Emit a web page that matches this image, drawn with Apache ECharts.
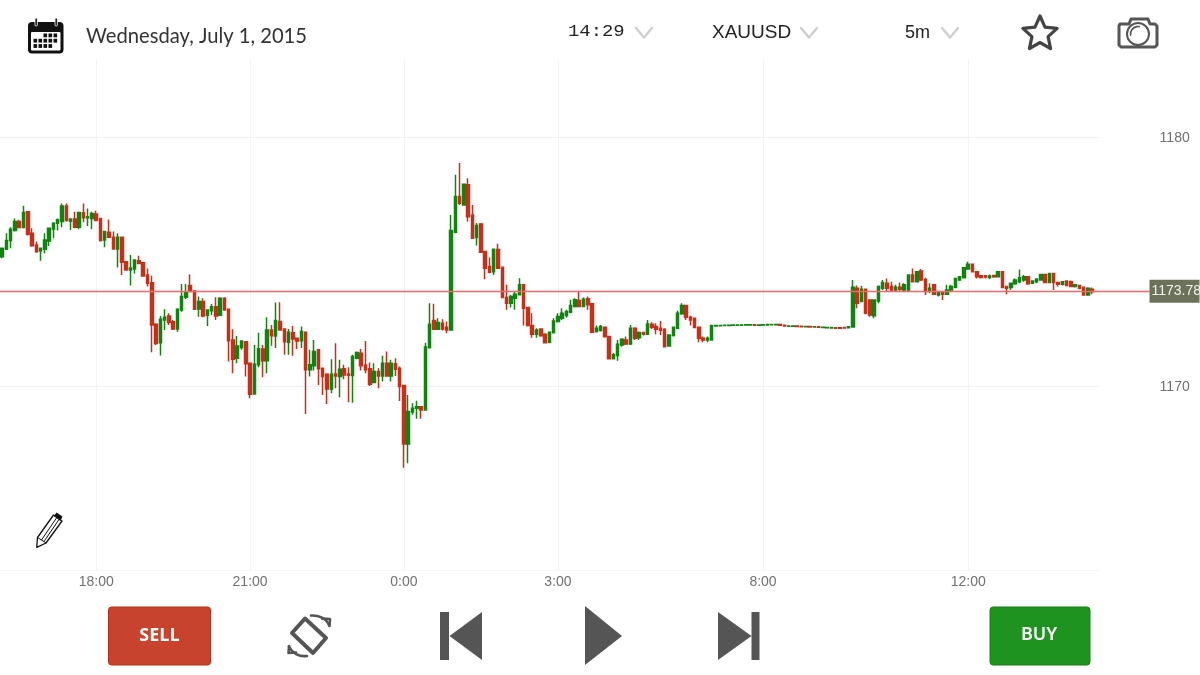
<!DOCTYPE html>
<html>
<head>
<meta charset="utf-8">
<title>XAUUSD 5m</title>
<style>html,body{margin:0;padding:0;background:#fff}#chart{width:1200px;height:675px}</style>
<script src="https://cdn.jsdelivr.net/npm/echarts@6/dist/echarts.min.js"></script>
</head>
<body>
<div id="chart"></div>
<script>
// Five-minute XAUUSD candles, oldest first.
const opens = [
1175.19,1175.49,1175.84,1176.24,1176.60,1176.36,1177.00,1176.13,1175.66,1175.42,
1175.49,1175.82,1176.30,1176.53,1176.60,1177.23,1176.61,1176.71,1176.37,1176.96,
1176.76,1176.73,1176.91,1176.73,1175.86,1176.17,1175.97,1175.50,1175.97,1174.99,
1174.66,1174.70,1175.03,1174.95,1174.46,1174.15,1172.48,1171.74,1172.65,1172.81,
1172.58,1172.29,1173.05,1173.56,1174.03,1173.81,1173.09,1173.39,1172.84,1173.02,
1173.18,1172.84,1173.52,1173.08,1171.85,1171.11,1171.54,1171.78,1170.91,1169.68,
1170.85,1171.48,1171.01,1172.25,1172.01,1172.59,1172.29,1171.76,1172.14,1171.92,
1171.82,1172.16,1170.65,1170.81,1171.45,1170.71,1170.47,1169.88,1170.48,1170.38,
1170.69,1170.48,1170.42,1171.11,1171.31,1170.83,1170.69,1170.14,1170.58,1170.40,
1170.91,1170.40,1170.89,1170.71,1170.02,1167.67,1168.95,1169.11,1169.17,1169.04,
1171.53,1172.63,1172.28,1172.52,1172.36,1172.25,1176.17,1177.61,1177.27,1178.08,
1176.87,1175.96,1176.50,1175.40,1174.80,1174.59,1175.48,1174.77,1173.55,1173.32,
1173.52,1173.66,1174.06,1173.15,1172.43,1172.08,1172.29,1172.08,1171.76,1172.14,
1172.59,1172.72,1172.83,1172.96,1173.19,1173.43,1173.19,1173.50,1173.30,1172.19,
1172.23,1172.36,1171.99,1171.09,1171.22,1171.65,1171.85,1171.69,1172.32,1171.94,
1172.15,1172.08,1172.48,1172.39,1172.32,1172.28,1171.61,1172.03,1172.32,1172.90,
1173.23,1172.76,1172.72,1172.36,1171.92,1171.85,1171.85,1172.41,1172.42,1172.43,
1172.43,1172.44,1172.44,1172.44,1172.45,1172.45,1172.46,1172.44,1172.45,1172.45,
1172.46,1172.46,1172.47,1172.44,1172.40,1172.40,1172.41,1172.40,1172.38,1172.39,
1172.37,1172.38,1172.35,1172.34,1172.33,1172.34,1172.34,1172.35,1172.34,1172.37,
1173.92,1173.39,1173.88,1173.45,1172.82,1173.41,1173.92,1174.12,1173.99,1173.85,
1173.96,1173.85,1173.85,1174.46,1174.19,1174.62,1174.28,1173.81,1174.06,1173.65,
1173.76,1173.68,1173.85,1173.96,1174.26,1174.35,1174.70,1174.89,1174.59,1174.43,
1174.43,1174.36,1174.44,1174.39,1174.59,1173.99,1173.95,1174.10,1174.19,1174.26,
1174.39,1174.12,1174.19,1174.26,1174.48,1174.16,1174.52,1174.16,1174.08,1174.22,
1174.19,1173.99,1174.03,1173.96,1173.65,1173.88
];
const closes = [
1175.53,1175.84,1176.29,1176.60,1176.36,1176.97,1176.09,1175.63,1175.39,1175.53,
1175.86,1176.33,1176.53,1176.67,1177.23,1176.64,1176.71,1176.37,1176.97,1176.76,
1176.80,1176.93,1176.64,1175.84,1176.20,1175.97,1175.50,1175.97,1174.97,1174.66,
1174.74,1175.06,1174.92,1174.42,1174.12,1172.45,1171.71,1172.68,1172.76,1172.56,
1172.29,1173.08,1173.59,1173.75,1173.79,1173.08,1173.39,1172.81,1173.05,1173.18,
1172.81,1173.52,1173.05,1171.82,1171.07,1171.61,1171.81,1170.89,1169.67,1170.87,
1171.49,1171.01,1172.25,1172.02,1172.63,1172.25,1171.78,1172.16,1171.89,1171.81,
1172.19,1170.65,1170.85,1171.38,1170.69,1170.38,1169.88,1170.47,1170.40,1170.67,
1170.44,1170.43,1171.18,1171.34,1170.81,1170.65,1170.07,1170.58,1170.40,1170.91,
1170.40,1170.91,1170.67,1169.98,1167.67,1168.97,1169.11,1169.17,1169.04,1171.56,
1172.48,1172.28,1172.55,1172.29,1172.25,1176.24,1177.61,1177.34,1178.10,1176.80,
1175.93,1176.44,1175.37,1174.73,1174.57,1175.49,1174.73,1173.55,1173.32,1173.59,
1173.68,1174.06,1173.12,1172.43,1172.08,1172.25,1172.02,1171.74,1172.16,1172.61,
1172.79,1172.92,1172.99,1173.23,1173.46,1173.19,1173.48,1173.26,1172.16,1172.32,
1172.39,1171.99,1171.09,1171.25,1171.68,1171.88,1171.69,1172.32,1171.92,1172.15,
1172.08,1172.49,1172.36,1172.28,1172.24,1171.58,1172.05,1172.36,1172.92,1173.23,
1172.76,1172.65,1172.35,1171.92,1171.85,1171.92,1172.43,1172.43,1172.43,1172.44,
1172.44,1172.45,1172.45,1172.45,1172.46,1172.46,1172.44,1172.45,1172.46,1172.47,
1172.47,1172.47,1172.44,1172.41,1172.41,1172.41,1172.39,1172.38,1172.39,1172.37,
1172.38,1172.36,1172.36,1172.35,1172.35,1172.32,1172.32,1172.33,1172.38,1173.96,
1173.32,1173.88,1172.92,1172.85,1173.45,1173.99,1174.16,1173.92,1173.85,1173.96,
1173.88,1174.06,1174.46,1174.19,1174.59,1174.26,1173.79,1173.92,1173.68,1173.76,
1173.68,1173.85,1173.99,1174.32,1174.39,1174.75,1174.89,1174.59,1174.39,1174.36,
1174.38,1174.42,1174.39,1174.59,1173.95,1173.92,1174.12,1174.26,1174.35,1174.39,
1174.10,1174.22,1174.30,1174.48,1174.16,1174.52,1174.16,1174.08,1174.19,1174.03,
1173.99,1174.06,1173.92,1173.65,1173.92,1173.78
];
const lows = [
1175.13,1175.49,1175.53,1176.20,1176.33,1176.33,1176.04,1175.59,1175.35,1175.03,
1175.33,1175.62,1175.93,1176.24,1176.37,1176.60,1176.26,1176.33,1176.29,1176.57,
1176.42,1176.29,1176.64,1175.80,1175.57,1175.93,1175.49,1174.76,1174.46,1174.63,
1174.03,1174.52,1174.92,1174.39,1173.99,1171.35,1171.65,1171.22,1172.25,1172.45,
1172.25,1172.18,1172.98,1173.49,1173.79,1173.05,1172.78,1172.76,1172.41,1172.85,
1172.65,1172.81,1173.02,1170.98,1170.51,1170.91,1171.45,1170.38,1169.51,1169.68,
1170.75,1170.35,1170.51,1171.62,1171.52,1172.25,1171.25,1171.25,1171.21,1171.48,
1171.52,1168.87,1170.38,1170.62,1170.04,1169.64,1169.28,1169.71,1169.91,1169.55,
1170.27,1169.35,1169.33,1171.07,1170.62,1170.51,1170.00,1170.11,1169.91,1170.18,
1170.40,1170.18,1170.40,1169.40,1166.72,1166.90,1168.84,1168.68,1168.68,1169.04,
1171.50,1172.25,1172.25,1172.23,1172.12,1172.25,1176.13,1177.27,1177.27,1176.60,
1175.91,1175.64,1175.37,1174.29,1174.53,1174.46,1174.73,1173.52,1173.06,1173.15,
1173.06,1173.63,1172.43,1172.39,1171.94,1171.94,1171.98,1171.72,1171.72,1172.12,
1172.55,1172.65,1172.75,1172.92,1173.15,1173.16,1173.16,1173.06,1172.12,1172.15,
1172.19,1171.94,1171.06,1171.06,1171.01,1171.58,1171.65,1171.65,1171.85,1171.85,
1172.03,1172.05,1172.29,1172.08,1172.05,1171.56,1171.58,1171.99,1172.32,1172.86,
1172.65,1172.43,1172.32,1171.76,1171.76,1171.76,1171.85,1172.40,1172.41,1172.42,
1172.42,1172.43,1172.43,1172.43,1172.44,1172.44,1172.43,1172.44,1172.44,1172.44,
1172.45,1172.45,1172.43,1172.40,1172.39,1172.39,1172.38,1172.37,1172.37,1172.36,
1172.36,1172.35,1172.34,1172.33,1172.32,1172.31,1172.31,1172.32,1172.33,1172.37,
1173.12,1173.39,1172.88,1172.78,1172.72,1173.32,1173.85,1173.81,1173.81,1173.81,
1173.79,1173.79,1173.79,1174.16,1174.16,1174.22,1173.65,1173.72,1173.65,1173.59,
1173.45,1173.65,1173.81,1173.92,1174.22,1174.32,1174.67,1174.56,1174.32,1174.32,
1174.32,1174.30,1174.35,1174.38,1173.92,1173.68,1173.85,1174.06,1174.12,1174.19,
1174.06,1174.10,1174.12,1174.23,1174.14,1174.12,1173.85,1173.99,1174.03,1174.01,
1173.96,1173.95,1173.88,1173.63,1173.63,1173.68
];
const highs = [
1175.53,1176.13,1176.37,1176.73,1176.67,1177.24,1177.03,1176.33,1175.80,1175.53,
1176.13,1176.36,1176.57,1176.73,1177.33,1177.33,1176.73,1177.00,1177.00,1177.33,
1177.13,1177.00,1177.04,1176.73,1176.20,1176.69,1176.20,1176.13,1175.97,1174.99,
1175.26,1175.06,1175.23,1174.95,1174.72,1174.43,1172.52,1172.81,1173.08,1172.92,
1172.65,1173.12,1174.09,1174.09,1174.48,1173.81,1173.59,1173.52,1173.05,1173.29,
1173.56,1173.56,1173.56,1173.08,1172.28,1172.01,1171.81,1171.78,1170.91,1171.65,
1172.14,1171.65,1172.76,1172.45,1173.35,1173.36,1172.29,1172.29,1172.41,1171.92,
1172.39,1172.16,1171.45,1171.85,1171.45,1170.71,1170.51,1171.07,1171.72,1171.05,
1170.85,1170.75,1171.25,1171.38,1171.48,1171.81,1170.94,1170.91,1170.71,1171.21,
1171.38,1171.05,1171.11,1170.78,1170.02,1169.64,1169.31,1169.41,1169.20,1171.74,
1173.32,1173.30,1172.72,1172.68,1172.59,1176.87,1178.48,1178.95,1178.10,1178.34,
1177.27,1176.54,1176.54,1175.40,1175.16,1175.49,1175.71,1174.77,1174.06,1173.66,
1173.79,1174.33,1174.06,1173.15,1172.92,1172.32,1172.32,1172.12,1172.18,1172.72,
1172.92,1173.12,1173.06,1173.46,1173.52,1173.77,1173.55,1173.59,1173.30,1172.43,
1172.45,1172.39,1171.99,1171.32,1171.85,1171.92,1171.99,1172.45,1172.36,1172.19,
1172.15,1172.65,1172.56,1172.52,1172.61,1172.32,1172.05,1172.36,1173.02,1173.32,
1173.26,1172.82,1172.75,1172.39,1171.99,1171.99,1172.45,1172.44,1172.44,1172.45,
1172.45,1172.46,1172.46,1172.46,1172.47,1172.47,1172.47,1172.46,1172.47,1172.48,
1172.48,1172.48,1172.48,1172.45,1172.42,1172.42,1172.42,1172.41,1172.40,1172.40,
1172.39,1172.39,1172.37,1172.36,1172.36,1172.35,1172.35,1172.36,1172.39,1174.26,
1174.03,1174.02,1173.88,1173.45,1173.45,1174.03,1174.26,1174.32,1174.19,1174.06,
1174.16,1174.12,1174.46,1174.72,1174.62,1174.70,1174.35,1174.12,1174.06,1173.81,
1173.79,1174.06,1174.06,1174.35,1174.42,1174.78,1174.99,1174.91,1174.62,1174.46,
1174.46,1174.48,1174.47,1174.60,1174.62,1174.02,1174.12,1174.32,1174.68,1174.46,
1174.42,1174.24,1174.32,1174.50,1174.51,1174.54,1174.52,1174.19,1174.22,1174.24,
1174.24,1174.08,1174.06,1173.99,1173.96,1173.95
];
const timeTickIndexes = [22, 58, 94, 130, 178, 226];
const timeTickLabels = ['18:00', '21:00', '0:00', '3:00', '8:00', '12:00'];
const priceTicks = [1170, 1180];
const priceMin = 1162.61;
const priceMax = 1183.09;
const lastPrice = 1173.78;

// One empty slot after the last candle leaves a little room at the right edge.
const categories = opens.concat([null]).map((_, i) => {
  const at = timeTickIndexes.indexOf(i);
  return at >= 0 ? timeTickLabels[at] : '';
});
const candles = opens.map((o, i) => [o, closes[i], lows[i], highs[i]]);
const isTimeTick = (i) => timeTickIndexes.indexOf(i) >= 0;

const ICON = '#555555';
const stroked = (w, c) => ({ fill: 'none', stroke: c || ICON, lineWidth: w, lineJoin: 'round', lineCap: 'round' });
const label = (x, y, text, font, fill, align, extra) => Object.assign({
  type: 'text', x, y, silent: true,
  style: { text, font, fill, align: align || 'left', verticalAlign: 'middle' }
}, extra || {});
const chevron = (x) => ({
  type: 'polyline', shape: { points: [[x, 28], [x + 8, 37.5], [x + 16, 28]] },
  style: stroked(2.4, '#cfcfcf'), silent: true
});

// Calendar glyph: dark case, white page, rings and day cells.
function calendarIcon() {
  const parts = [
    { type: 'rect', shape: { x: 28, y: 22, width: 35.5, height: 31.5, r: 4 }, style: { fill: '#111' } },
    { type: 'rect', shape: { x: 31, y: 32, width: 29.5, height: 18.5, r: 1 }, style: { fill: '#fff' } }
  ];
  [36, 56].forEach((x) => {
    parts.push({ type: 'rect', shape: { x: x - 1, y: 18, width: 2.4, height: 8, r: 1 }, style: { fill: '#111', stroke: '#fff', lineWidth: 0.8 } });
  });
  const rows = [[43.5, 48.5, 53.5], [33.5, 38.5, 43.5, 48.5, 53.5], [33.5, 38.5, 43.5, 48.5]];
  rows.forEach((cols, r) => {
    cols.forEach((x) => {
      parts.push({ type: 'rect', shape: { x, y: 33.5 + r * 5.3, width: 3.6, height: 3.8 }, style: { fill: '#111' } });
    });
  });
  return parts;
}

function starIcon(cx, cy, R, r) {
  const points = [];
  for (let k = 0; k < 10; k++) {
    const a = -Math.PI / 2 + k * Math.PI / 5;
    const rad = k % 2 ? r : R;
    points.push([cx + rad * Math.cos(a), cy + rad * Math.sin(a)]);
  }
  return { type: 'polygon', shape: { points }, style: stroked(3.2, '#444') };
}

function cameraIcon() {
  return [
    { type: 'polygon', shape: { points: [[1120, 24], [1129, 24], [1131, 19], [1148, 19], [1150, 24], [1155, 24], [1157, 26], [1157, 45], [1155, 47], [1121, 47], [1119, 45], [1119, 26]] }, style: stroked(3) },
    { type: 'circle', shape: { cx: 1138, cy: 34, r: 11 }, style: stroked(2) },
    { type: 'arc', shape: { cx: 1138, cy: 34, r: 7.5, startAngle: Math.PI * 0.95, endAngle: Math.PI * 1.55 }, style: stroked(1.6) }
  ];
}

function pencilIcon() {
  return [
    { type: 'polygon', shape: { points: [[53.5, 515], [37.5, 537.5], [36.7, 547.3], [46, 543], [62, 521]] }, style: stroked(1.3, '#111') },
    { type: 'polygon', shape: { points: [[54, 516], [56.5, 512.5], [62.5, 516.5], [60.5, 521]] }, style: { fill: '#111' } },
    { type: 'polyline', shape: { points: [[37.5, 537.5], [41.5, 540], [46, 543]] }, style: stroked(1, '#111') },
    { type: 'line', shape: { x1: 41.5, y1: 540, x2: 56.5, y2: 518 }, style: stroked(1, '#111') },
    { type: 'line', shape: { x1: 44, y1: 541.5, x2: 59, y2: 519.5 }, style: stroked(1, '#111') }
  ];
}

function rotateIcon() {
  return [
    { type: 'polygon', shape: { points: [[305, 618.5], [326, 638], [313, 653], [292, 633]] }, style: stroked(4) },
    { type: 'bezierCurve', shape: { x1: 311, y1: 615.5, cpx1: 318, cpy1: 615, cpx2: 326, cpy2: 618, x2: 329, y2: 625 }, style: stroked(2.6) },
    { type: 'polyline', shape: { points: [[322, 618.5], [330, 619], [329.5, 626]] }, style: stroked(2.6) },
    { type: 'bezierCurve', shape: { x1: 307, y1: 656, cpx1: 299, cpy1: 657, cpx2: 292, cpy2: 653, x2: 289, y2: 646.5 }, style: stroked(2.6) },
    { type: 'polyline', shape: { points: [[296, 652.5], [288.5, 653], [289, 646]] }, style: stroked(2.6) }
  ];
}

const filled = { fill: ICON };
const graphicElements = [
  ...calendarIcon(),
  label(86, 36, 'Wednesday, July 1, 2015', '20.2px Lato', '#333'),
  label(568, 32, '14:29', '16px "Liberation Mono"', '#222', 'left', { scaleX: 1.18 }),
  chevron(636),
  label(712, 33, 'XAUUSD', '19px "Liberation Sans"', '#222'),
  chevron(801),
  label(905, 33, '5m', '18px "Liberation Sans"', '#222'),
  chevron(942),
  starIcon(1040, 34, 18, 8.5),
  ...cameraIcon(),
  ...pencilIcon(),
  { type: 'rect', shape: { x: 108.5, y: 607, width: 102, height: 58, r: 3 }, style: { fill: '#c8432d', stroke: '#bc3018', lineWidth: 1 } },
  label(159.5, 636, 'SELL', 'bold 18px "Open Sans"', '#fff', 'center'),
  ...rotateIcon(),
  { type: 'rect', shape: { x: 440, y: 612, width: 9, height: 48 }, style: filled },
  { type: 'polygon', shape: { points: [[482, 612], [449.5, 636], [482, 660]] }, style: filled },
  { type: 'polygon', shape: { points: [[585, 606], [622, 636], [585, 665]] }, style: filled },
  { type: 'polygon', shape: { points: [[718, 612], [751.5, 636], [718, 660]] }, style: filled },
  { type: 'rect', shape: { x: 751.5, y: 612, width: 8, height: 48 }, style: filled },
  { type: 'rect', shape: { x: 990, y: 607, width: 100, height: 58, r: 3 }, style: { fill: '#1f931f', stroke: '#178317', lineWidth: 1 } },
  label(1039, 635, 'BUY', '600 18px "Noto Sans"', '#fff', 'center')
];

const chart = echarts.init(document.getElementById('chart'), null, { width: 1200, height: 675 });
chart.setOption({
  animation: false,
  backgroundColor: '#ffffff',
  grid: [
    { left: -2.4, width: 1101, top: 60, height: 510, containLabel: false },
    { left: 0, width: 1149.5, top: 59.5, height: 510, containLabel: false }
  ],
  xAxis: [
    {
      type: 'category', data: categories, gridIndex: 0, boundaryGap: true,
      axisLine: { lineStyle: { color: '#f5f5f5' } },
      axisTick: { show: false },
      splitLine: { show: true, interval: (i) => isTimeTick(i), alignWithLabel: true, lineStyle: { color: '#f3f3f3', width: 1 } },
      axisLabel: { interval: (i) => isTimeTick(i), color: '#707070', fontFamily: 'Liberation Sans', fontSize: 14, margin: 5, hideOverlap: false }
    },
    { type: 'value', gridIndex: 1, min: 0, max: 1, show: false }
  ],
  yAxis: [
    {
      type: 'value', gridIndex: 0, position: 'right', min: priceMin, max: priceMax, scale: true,
      axisLine: { show: false },
      axisTick: { show: false, customValues: priceTicks },
      splitLine: { show: true, lineStyle: { color: '#f1f1f1', width: 1 } },
      axisLabel: { customValues: priceTicks, formatter: (v) => String(v), color: '#707070', fontFamily: 'Liberation Sans', fontSize: 14, margin: 61, verticalAlign: 'top', lineHeight: 2 }
    },
    { type: 'value', gridIndex: 1, min: priceMin, max: priceMax, scale: true, show: false }
  ],
  series: [
    {
      type: 'candlestick', name: 'XAUUSD', data: candles, xAxisIndex: 0, yAxisIndex: 0,
      barWidth: 3, clip: false,
      itemStyle: { color: '#118311', color0: '#c4301a', borderColor: '#118311', borderColor0: '#c4301a', borderWidth: 1.5 }
    },
    {
      type: 'line', name: 'Last price', data: [[0, lastPrice]], xAxisIndex: 1, yAxisIndex: 1,
      symbol: 'none', silent: true, z: 5,
      markLine: {
        silent: true, symbol: 'none', animation: false,
        lineStyle: { color: '#f06a6a', type: 'solid', width: 1.4 },
        label: {
          position: 'end', distance: 0, formatter: (p) => p.value.toFixed(2),
          backgroundColor: '#6b7259', color: '#f2f2ee', fontFamily: 'Liberation Sans', fontSize: 14,
          padding: [4, 1, 4, 2], width: 47, height: 15, lineHeight: 15, align: 'left'
        },
        data: [{ yAxis: lastPrice }]
      }
    }
  ],
  graphic: { elements: graphicElements }
});
</script>
</body>
</html>
